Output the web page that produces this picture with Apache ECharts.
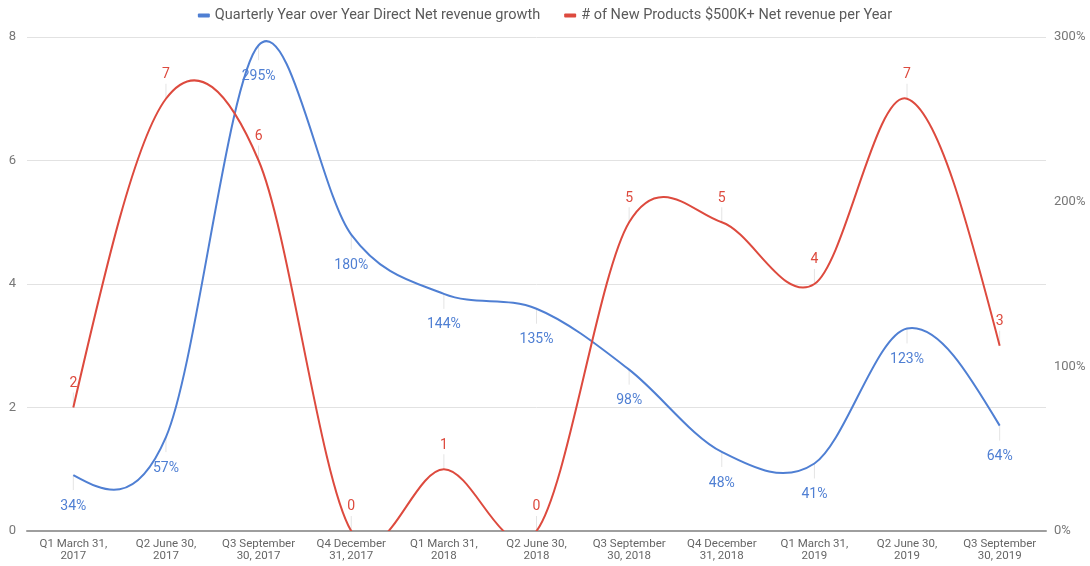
<!DOCTYPE html>
<html>
<head>
<meta charset="utf-8">
<script src="https://cdn.jsdelivr.net/npm/echarts@6/dist/echarts.min.js"></script>
<style>
  html, body { margin: 0; padding: 0; background: #fff; }
  #chart { width: 1090px; height: 566px; }
</style>
</head>
<body>
<div id="chart"></div>
<script>
var quarters = [
  'Q1 March 31,\n2017', 'Q2 June 30,\n2017', 'Q3 September\n30, 2017', 'Q4 December\n31, 2017',
  'Q1 March 31,\n2018', 'Q2 June 30,\n2018', 'Q3 September\n30, 2018', 'Q4 December\n31, 2018',
  'Q1 March 31,\n2019', 'Q2 June 30,\n2019', 'Q3 September\n30, 2019'
];
var growthPct = [34, 57, 295, 180, 144, 135, 98, 48, 41, 123, 64];
var newProducts = [2, 7, 6, 0, 1, 0, 5, 5, 4, 7, 3];

var growthName = 'Quarterly Year over Year Direct Net revenue growth';
var productsName = '# of New Products $500K+ Net revenue per Year';

var blue = '#4f7fd3';
var red = '#dd4a3e';

var myChart = echarts.init(document.getElementById('chart'));

// catmull-rom through the points, natural ends (like the sheets "smooth" line)
function curvePath(pts) {
  var n = pts.length;
  var m = [];
  for (var k = 1; k < n - 1; k++) {
    m[k] = [(pts[k + 1][0] - pts[k - 1][0]) / 2, (pts[k + 1][1] - pts[k - 1][1]) / 2];
  }
  m[0] = [(3 * (pts[1][0] - pts[0][0]) - m[1][0]) / 2, (3 * (pts[1][1] - pts[0][1]) - m[1][1]) / 2];
  m[n - 1] = [(3 * (pts[n - 1][0] - pts[n - 2][0]) - m[n - 2][0]) / 2,
              (3 * (pts[n - 1][1] - pts[n - 2][1]) - m[n - 2][1]) / 2];
  var d = 'M' + pts[0][0] + ' ' + pts[0][1];
  for (var k = 0; k < n - 1; k++) {
    d += ' C' + (pts[k][0] + m[k][0] / 3) + ' ' + (pts[k][1] + m[k][1] / 3) + ' ' +
      (pts[k + 1][0] - m[k + 1][0] / 3) + ' ' + (pts[k + 1][1] - m[k + 1][1] / 3) + ' ' +
      pts[k + 1][0] + ' ' + pts[k + 1][1];
  }
  return d;
}

function curveSeries(name, values, axisIndex, color, dir) {
  return {
    name: name,
    type: 'custom',
    yAxisIndex: axisIndex,
    clip: true,
    silent: true,
    z: 2,
    data: values.map(function (v, i) { return [i, v]; }),
    encode: { x: 0, y: 1 },
    renderItem: function (params, api) {
      if (params.dataIndex !== 0) return null;
      var pts = values.map(function (v, i) { return api.coord([i, v]); });
      var children = pts.map(function (p) {
        return {
          type: 'line',
          shape: { x1: p[0], y1: p[1], x2: p[0], y2: p[1] + dir * 15 },
          style: { stroke: '#e4e4e4', lineWidth: 1 }
        };
      });
      children.push({
        type: 'path',
        shape: { pathData: curvePath(pts) },
        style: { fill: null, stroke: color, lineWidth: 2 }
      });
      return { type: 'group', children: children };
    }
  };
}

function labelSeries(name, values, axisIndex, color, pos, dist, fmt) {
  return {
    name: name,
    type: 'line',
    yAxisIndex: axisIndex,
    data: values,
    symbol: 'circle',
    symbolSize: 0.1,
    showSymbol: true,
    silent: true,
    z: 3,
    itemStyle: { color: color },
    lineStyle: { width: 0, opacity: 0 },
    label: {
      show: true,
      position: pos,
      distance: dist,
      color: color,
      fontSize: 14,
      formatter: fmt
    }
  };
}

option = {
  animation: false,
  textStyle: { fontFamily: 'Roboto' },
  legend: {
    top: 3,
    left: 'center',
    itemWidth: 12,
    itemHeight: 4,
    itemGap: 24,
    icon: 'roundRect',
    textStyle: { color: '#5a5a5a', fontSize: 14.5 },
    data: [
      { name: growthName, itemStyle: { color: blue } },
      { name: productsName, itemStyle: { color: red } }
    ]
  },
  grid: {
    left: 27,
    right: 44,
    top: 37,
    bottom: 35
  },
  xAxis: {
    type: 'category',
    data: quarters,
    boundaryGap: true,
    axisTick: { show: false },
    axisLine: { lineStyle: { color: '#9e9e9e', width: 2 } },
    axisLabel: { color: '#666', fontSize: 11.5, lineHeight: 12, interval: 0, margin: 7 }
  },
  yAxis: [
    {
      type: 'value',
      min: 0,
      max: 8,
      interval: 2,
      axisLine: { show: false },
      axisTick: { show: false },
      axisLabel: { color: '#777', fontSize: 13, margin: 11 },
      splitLine: { lineStyle: { color: '#e2e2e2', width: 1 } }
    },
    {
      type: 'value',
      min: 0,
      max: 300,
      interval: 100,
      axisLine: { show: false },
      axisTick: { show: false },
      axisLabel: { color: '#777', fontSize: 13, margin: 8, formatter: '{value}%' },
      splitLine: { show: false }
    }
  ],
  series: [
    curveSeries(growthName, growthPct, 1, blue, 1),
    curveSeries(productsName, newProducts, 0, red, -1),
    labelSeries(growthName, growthPct, 1, blue, 'bottom', 24, '{c}%'),
    labelSeries(productsName, newProducts, 0, red, 'top', 17, '{c}')
  ]
};

myChart.setOption(option);

window.addEventListener('resize', function () {
  myChart.resize();
});
</script>
</body>
</html>
